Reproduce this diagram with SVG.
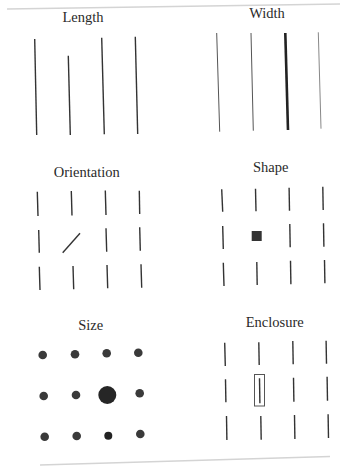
<svg xmlns="http://www.w3.org/2000/svg" width="348" height="469" viewBox="0 0 348 469">
<style>
.t{font-family:"Liberation Serif","DejaVu Serif",serif;font-size:14.5px;fill:#2a2a2a;text-anchor:middle}
.m{stroke:#333;stroke-width:1.4;stroke-linecap:butt;fill:none}
.thin{stroke:#555;stroke-width:1;fill:none}
.light{stroke:#888;stroke-width:1;fill:none}
.thick{stroke:#222;stroke-width:2.6;fill:none}
.d{fill:#3a3a3a}
.edge{stroke:#d4d4d4;stroke-width:1.5;fill:none}
</style>
<rect width="348" height="469" fill="#fff"/>
<g id="page-edges">
<line class="edge" x1="7" y1="9" x2="340" y2="4"/>
<line class="edge" x1="40" y1="465" x2="330" y2="456.5"/>
</g>
<g id="length">
<text class="t" x="83" y="22">Length</text>
<line class="m" x1="34.7" y1="39" x2="36.7" y2="135"/>
<line class="m" x1="68.3" y1="55.7" x2="70.3" y2="135"/>
<line class="m" x1="101.7" y1="37.7" x2="104.3" y2="134.3"/>
<line class="m" x1="135.3" y1="36.7" x2="137.7" y2="134"/>
</g>
<g id="width">
<text class="t" x="267" y="18">Width</text>
<line class="thin" x1="216.7" y1="33" x2="219.7" y2="131.7"/>
<line class="thin" x1="251" y1="33" x2="253.3" y2="130.7"/>
<line class="thick" x1="285.3" y1="33" x2="288" y2="130"/>
<line class="light" x1="318.3" y1="32.3" x2="321" y2="128.7"/>
</g>
<g id="orientation">
<text class="t" x="86.7" y="176.7">Orientation</text>
<line class="m" x1="37.3" y1="191.7" x2="38" y2="216"/>
<line class="m" x1="71.3" y1="191" x2="72" y2="215.5"/>
<line class="m" x1="105.3" y1="190.5" x2="106" y2="215"/>
<line class="m" x1="139.3" y1="190.7" x2="139.7" y2="214"/>
<line class="m" x1="38.7" y1="230" x2="39.3" y2="252.7"/>
<line class="m" x1="62.7" y1="252.7" x2="80" y2="233.3"/>
<line class="m" x1="106" y1="228.3" x2="106.7" y2="251.7"/>
<line class="m" x1="139.7" y1="227.3" x2="140.3" y2="250.7"/>
<line class="m" x1="39.3" y1="266.7" x2="40" y2="290"/>
<line class="m" x1="73" y1="266" x2="73.7" y2="289.3"/>
<line class="m" x1="107" y1="265" x2="107.7" y2="288.3"/>
<line class="m" x1="141" y1="264.3" x2="141.7" y2="287.7"/>
</g>
<g id="shape">
<text class="t" x="270.7" y="171.7">Shape</text>
<line class="m" x1="221.7" y1="189.3" x2="222.7" y2="211.7"/>
<line class="m" x1="255.5" y1="188.7" x2="256" y2="211.3"/>
<line class="m" x1="289.1" y1="187.7" x2="289.5" y2="210.7"/>
<line class="m" x1="322.8" y1="186.7" x2="323.2" y2="210"/>
<line class="m" x1="222.7" y1="226" x2="223.3" y2="249"/>
<rect x="251.7" y="231" width="10" height="10" fill="#333"/>
<line class="m" x1="289.8" y1="224" x2="290.2" y2="247.3"/>
<line class="m" x1="323.5" y1="223.3" x2="323.9" y2="246.7"/>
<line class="m" x1="223.3" y1="262.7" x2="224" y2="286"/>
<line class="m" x1="256.8" y1="262" x2="257.2" y2="285"/>
<line class="m" x1="290.5" y1="260.7" x2="290.9" y2="284.3"/>
<line class="m" x1="324.5" y1="260" x2="324.9" y2="283.3"/>
</g>
<g id="size">
<text class="t" x="90.7" y="330">Size</text>
<circle class="d" cx="42.7" cy="355" r="4.3"/>
<circle class="d" cx="75" cy="354.3" r="4.3"/>
<circle class="d" cx="106.7" cy="353.3" r="4.3"/>
<circle class="d" cx="138.3" cy="352.7" r="4.3"/>
<circle class="d" cx="43.7" cy="396" r="4.3"/>
<circle class="d" cx="76" cy="395" r="4.3"/>
<circle cx="107.3" cy="395" r="9" fill="#262626"/>
<circle class="d" cx="139.7" cy="393.3" r="4.3"/>
<circle class="d" cx="44.7" cy="436.7" r="4.3"/>
<circle class="d" cx="76.7" cy="436" r="4.3"/>
<circle cx="108.3" cy="435.7" r="4" fill="#222"/>
<circle class="d" cx="140.3" cy="434" r="4.3"/>
</g>
<g id="enclosure">
<text class="t" x="274.7" y="326.7">Enclosure</text>
<line class="m" x1="224.7" y1="342.7" x2="225.3" y2="366"/>
<line class="m" x1="258.8" y1="342.3" x2="259.2" y2="365"/>
<line class="m" x1="292.8" y1="341" x2="293.2" y2="364.3"/>
<line class="m" x1="326.1" y1="340.7" x2="326.5" y2="363.7"/>
<line class="m" x1="225.5" y1="379.3" x2="225.9" y2="402.3"/>
<line class="m" x1="259.5" y1="378.3" x2="259.9" y2="403.3"/>
<rect x="254.5" y="374.5" width="10" height="31.5" fill="none" stroke="#555" stroke-width="1"/>
<line class="m" x1="293.5" y1="377.7" x2="293.9" y2="401.7"/>
<line class="m" x1="327.1" y1="376.7" x2="327.5" y2="400.7"/>
<line class="m" x1="226.5" y1="416" x2="226.9" y2="440"/>
<line class="m" x1="260.8" y1="416" x2="261.2" y2="439.7"/>
<line class="m" x1="294.5" y1="415" x2="294.9" y2="439"/>
<line class="m" x1="328.1" y1="414.3" x2="328.5" y2="438"/>
</g>
</svg>
